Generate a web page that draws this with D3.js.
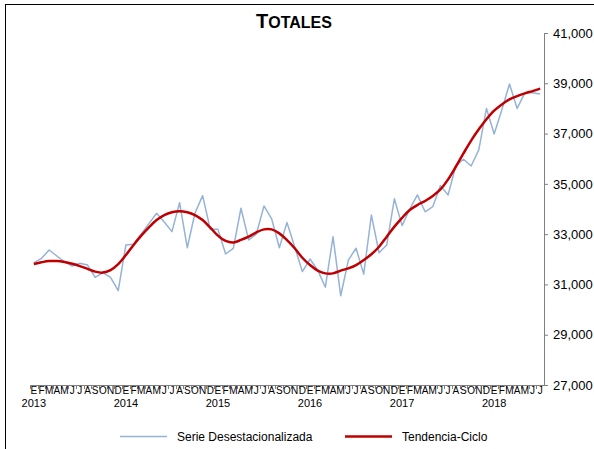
<!DOCTYPE html>
<html>
<head>
<meta charset="utf-8">
<script src="https://cdn.jsdelivr.net/npm/d3@7"></script>
<style>
	body { margin: 0; background: #fff; }
	svg { display: block; font-family: "Liberation Sans", Arial, sans-serif; }
</style>
</head>
<body>
<svg id="chart" width="594" height="449"></svg>
<script>
// etiquetas del eje
var monthLabels = ["E","F","M","A","M","J","J","A","S","O","N","D"];
var years = ["2013","2014","2015","2016","2017","2018"];
var monthsPerYear = [12, 12, 12, 12, 12, 7];
var yTicks = [27000, 29000, 31000, 33000, 35000, 37000, 39000, 41000];

var serie = [
	31860, 32040, 32370, 32130, 31900, 31730, 31840, 31770, 31280, 31470, 31280, 30750,
	32570, 32600, 33010, 33420, 33830, 33480, 33100, 34250, 32460, 33830, 34530, 33190,
	33190, 32210, 32430, 34030, 32770, 33000, 34120, 33610, 32460, 33460, 32500, 31510,
	32010, 31570, 30890, 32900, 30550, 31970, 32440, 31410, 33760, 32260, 32570, 34410,
	33340, 34000, 34560, 33890, 34090, 34930, 34560, 35710, 35980, 35710, 36350, 38000,
	36980, 37940, 38970, 38000, 38620, 38620, 38570
];

var tendencia = [
	31810, 31880, 31930, 31930, 31890, 31820, 31730, 31620, 31510, 31470, 31570, 31810,
	32170, 32570, 32940, 33270, 33560, 33760, 33870, 33910, 33870, 33760, 33560, 33260,
	32940, 32730, 32670, 32770, 32900, 33070, 33190, 33190, 33030, 32760, 32440, 32060,
	31770, 31550, 31440, 31440, 31550, 31640, 31770, 31970, 32200, 32500, 32900, 33300,
	33650, 33960, 34160, 34320, 34520, 34780, 35180, 35680, 36210, 36720, 37170, 37570,
	37910, 38160, 38360, 38490, 38600, 38690, 38790
];

// categorias mes a mes
var cats = [];
years.forEach(function(yr, yi){
	for(var m = 0; m < monthsPerYear[yi]; m++){
		cats.push({ key: yr + "-" + m, month: monthLabels[m], year: m == 0 ? yr : null });
	}
});

var svg = d3.select("#chart");

var plotLeft = 30, plotRight = 544, plotTop = 33, plotBottom = 385;

var x = d3.scaleBand()
		.domain(cats.map(function(d){ return d.key; }))
		.range([plotLeft, plotRight]);

var y = d3.scaleLinear()
		.domain([27000, 41000])
		.range([plotBottom, plotTop]);

var cx = function(d, i){ return x(cats[i].key) + x.bandwidth() / 2; };

// marco exterior
svg.append("rect")
	.attr("x", 5.5).attr("y", 4.5)
	.attr("width", 620).attr("height", 470)
	.attr("fill", "none")
	.attr("stroke", "#000")
	.attr("stroke-width", 1);

// titulo en versalitas
var title = svg.append("text")
	.attr("x", 294).attr("y", 28)
	.attr("text-anchor", "middle")
	.attr("font-weight", "bold")
	.attr("fill", "#000");
title.append("tspan").attr("font-size", 20).text("T");
title.append("tspan").attr("font-size", 16).text("OTALES");

// eje derecho
var yAxis = d3.axisRight(y)
		.tickValues(yTicks)
		.tickFormat(d3.format(","))
		.tickSize(4)
		.tickPadding(5);

var ga = svg.append("g")
	.attr("transform", "translate(" + plotRight + ",0)")
	.call(yAxis);
ga.select(".domain").attr("stroke", "#808080").attr("d", "M0.5," + plotTop + "V" + plotBottom);
ga.selectAll(".tick line").attr("stroke", "#808080");
ga.selectAll(".tick text")
	.attr("font-size", 13)
	.attr("fill", "#000")
	.attr("font-family", "Liberation Sans, Arial, sans-serif");

// eje inferior
var gx = svg.append("g");
gx.append("line")
	.attr("x1", plotLeft).attr("x2", plotRight)
	.attr("y1", plotBottom + 0.5).attr("y2", plotBottom + 0.5)
	.attr("stroke", "#808080");

gx.selectAll("line.tk")
	.data(cats)
	.enter()
	.append("line")
	.attr("class", "tk")
	.attr("x1", function(d){ return Math.round(x(d.key)) + 0.5; })
	.attr("x2", function(d){ return Math.round(x(d.key)) + 0.5; })
	.attr("y1", plotBottom)
	.attr("y2", plotBottom + 4)
	.attr("stroke", "#808080");

gx.selectAll("text.mes")
	.data(cats)
	.enter()
	.append("text")
	.attr("class", "mes")
	.attr("x", function(d){ return x(d.key) + x.bandwidth() / 2; })
	.attr("y", plotBottom + 9)
	.attr("text-anchor", "middle")
	.attr("font-size", 10)
	.attr("fill", "#000")
	.text(function(d){ return d.month; });

gx.selectAll("text.anio")
	.data(cats.filter(function(d){ return d.year; }))
	.enter()
	.append("text")
	.attr("class", "anio")
	.attr("x", function(d){ return x(d.key) + x.bandwidth() / 2; })
	.attr("y", plotBottom + 22)
	.attr("text-anchor", "middle")
	.attr("font-size", 11)
	.attr("fill", "#000")
	.text(function(d){ return d.year; });

// series
var lineSerie = d3.line()
		.x(cx)
		.y(function(d){ return y(d); });

var lineTend = d3.line()
		.x(cx)
		.y(function(d){ return y(d); })
		.curve(d3.curveCatmullRom);

svg.append("path")
	.datum(serie)
	.attr("d", lineSerie)
	.attr("fill", "none")
	.attr("stroke", "#95B3D7")
	.attr("stroke-width", 1.5)
	.attr("stroke-linejoin", "round");

svg.append("path")
	.datum(tendencia)
	.attr("d", lineTend)
	.attr("fill", "none")
	.attr("stroke", "#C00000")
	.attr("stroke-width", 2.5)
	.attr("stroke-linejoin", "round");

// leyenda
var legend = [
	{ name: "Serie Desestacionalizada", color: "#95B3D7", w: 1.5, x0: 120 },
	{ name: "Tendencia-Ciclo", color: "#C00000", w: 2.5, x0: 345 }
];

var lg = svg.selectAll("g.leg")
	.data(legend)
	.enter()
	.append("g")
	.attr("class", "leg")
	.attr("transform", function(d){ return "translate(" + d.x0 + ",436.5)"; });

lg.append("line")
	.attr("x1", 0).attr("x2", 47)
	.attr("stroke", function(d){ return d.color; })
	.attr("stroke-width", function(d){ return d.w; });

lg.append("text")
	.attr("x", 57).attr("y", 4.5)
	.attr("font-size", 12)
	.attr("fill", "#000")
	.text(function(d){ return d.name; });
</script>
</body>
</html>
